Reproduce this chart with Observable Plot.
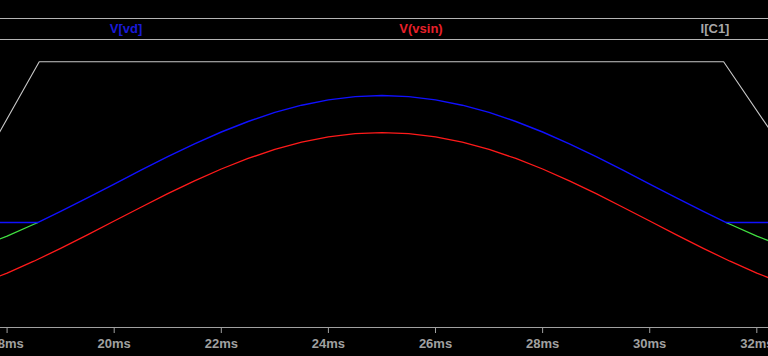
<!DOCTYPE html>
<html><head><meta charset="utf-8">
<script src="https://cdn.jsdelivr.net/npm/d3@7"></script>
<script src="https://cdn.jsdelivr.net/npm/@observablehq/plot@0.6"></script>
<style>
html,body{margin:0;padding:0;background:#000;width:768px;height:356px;overflow:hidden;}
#wrap{position:relative;width:768px;height:356px;}
.hline{position:absolute;left:0;width:768px;height:1px;background:#b4b4b4;}
.lbl{position:absolute;top:21px;font:bold 13px "Liberation Sans",Arial,sans-serif;line-height:16px;white-space:nowrap;transform:translateX(-50%);}
#chart{position:absolute;left:0;top:40px;}
#chart svg{display:block;}
</style></head><body>
<div id="wrap">
<div class="hline" style="top:18px"></div>
<div class="hline" style="top:39px"></div>
<div class="hline" style="top:353px"></div>
<div id="legend"></div>
<div id="chart"></div>
</div>
<script>
// Trace names and colours (legend row)
const seriesNames = ["V[vd]", "V(vsin)", "I[C1]"];
const seriesColors = ["#1010ff", "#ff1a1a", "#c8c8c8"];
const greenColor = "#40e040";

// Time axis ticks (ms)
const tickValues = [18, 20, 22, 24, 26, 28, 30, 32];

// V(vsin): time (ms) and value
const vsinT = [17.5,18,18.5,19,19.5,20,20.5,21,21.5,22,22.5,23,23.5,24,24.5,25,25.5,26,26.5,27,27.5,28,28.5,29,29.5,30,30.5,31,31.5,32,32.5];
const vsinV = [-7.07,-5.88,-4.54,-3.09,-1.56,0,1.56,3.09,4.54,5.88,7.07,8.09,8.91,9.51,9.88,10,9.88,9.51,8.91,8.09,7.07,5.88,4.54,3.09,1.56,0,-1.56,-3.09,-4.54,-5.88,-7.07];

// V(vd): clamped trace
const vdT = [17.5,18.57,19,19.5,20,20.5,21,21.5,22,22.5,23,23.5,24,24.5,25,25.5,26,26.5,27,27.5,28,28.5,29,29.5,30,30.5,31,31.43,32.5];
const vdV = [-0.17,-0.17,1.09,2.62,4.18,5.74,7.27,8.72,10.06,11.25,12.27,13.09,13.69,14.06,14.18,14.06,13.69,13.09,12.27,11.25,10.06,8.72,7.27,5.74,4.18,2.62,1.09,-0.17,-0.17];

// Green trace segments (below the clamp)
const greenSeg = ["left","left","left","left","right","right","right","right"];
const greenT = [17.5,18,18.5,18.57,31.43,31.5,32,32.5];
const greenV = [-2.89,-1.70,-0.36,-0.17,-0.17,-0.36,-1.70,-2.89];

// I(C1)
const ic1T = [17.8,18.6,31.38,32.3];
const ic1V = [9.4,18.0,18.0,9.8];

const xDomain = [17.877, 32.218];
const yDomain = [-12.03, 20.4];

const vsin = vsinT.map((t,i)=>({t, v:vsinV[i]}));
const vd = vdT.map((t,i)=>({t, v:vdV[i]}));
const green = greenT.map((t,i)=>({t, v:greenV[i], s:greenSeg[i]}));
const ic1 = ic1T.map((t,i)=>({t, v:ic1V[i]}));

// legend
const legendX = [126, 421, 715];
const lg = document.getElementById("legend");
seriesNames.forEach((n,i)=>{
  const d = document.createElement("div");
  d.className = "lbl";
  d.textContent = n;
  d.style.left = legendX[i] + "px";
  d.style.color = i===2 ? "#a8a8a8" : (i===0 ? "#1a1ad8" : "#e8202a");
  lg.appendChild(d);
});

const chart = Plot.plot({
  width: 768,
  height: 316,
  marginTop: 0,
  marginBottom: 29,
  marginLeft: 0,
  marginRight: 0,
  style: {background: "#000", color: "#a0a0a0", fontSize: "13px", fontWeight: "bold", fontFamily: "'Liberation Sans', Arial, sans-serif", overflow: "hidden"},
  x: {domain: xDomain},
  y: {domain: yDomain, axis: null},
  marks: [
    Plot.ruleY([yDomain[0]], {stroke: "#a0a0a0"}),
    Plot.axisX({ticks: tickValues, tickFormat: d => d + "ms", tickSize: 6, tickPadding: 5, color: "#a0a0a0", label: null}),
    Plot.line(ic1, {x: "t", y: "v", stroke: seriesColors[2], strokeWidth: 1.1, clip: true}),
    Plot.line(green, {x: "t", y: "v", z: "s", stroke: greenColor, strokeWidth: 1.3, clip: true}),
    Plot.line(vsin, {x: "t", y: "v", stroke: seriesColors[1], strokeWidth: 1.3, clip: true}),
    Plot.line(vd, {x: "t", y: "v", stroke: seriesColors[0], strokeWidth: 1.4, clip: true})
  ]
});
document.getElementById("chart").appendChild(chart);
</script>
</body></html>
